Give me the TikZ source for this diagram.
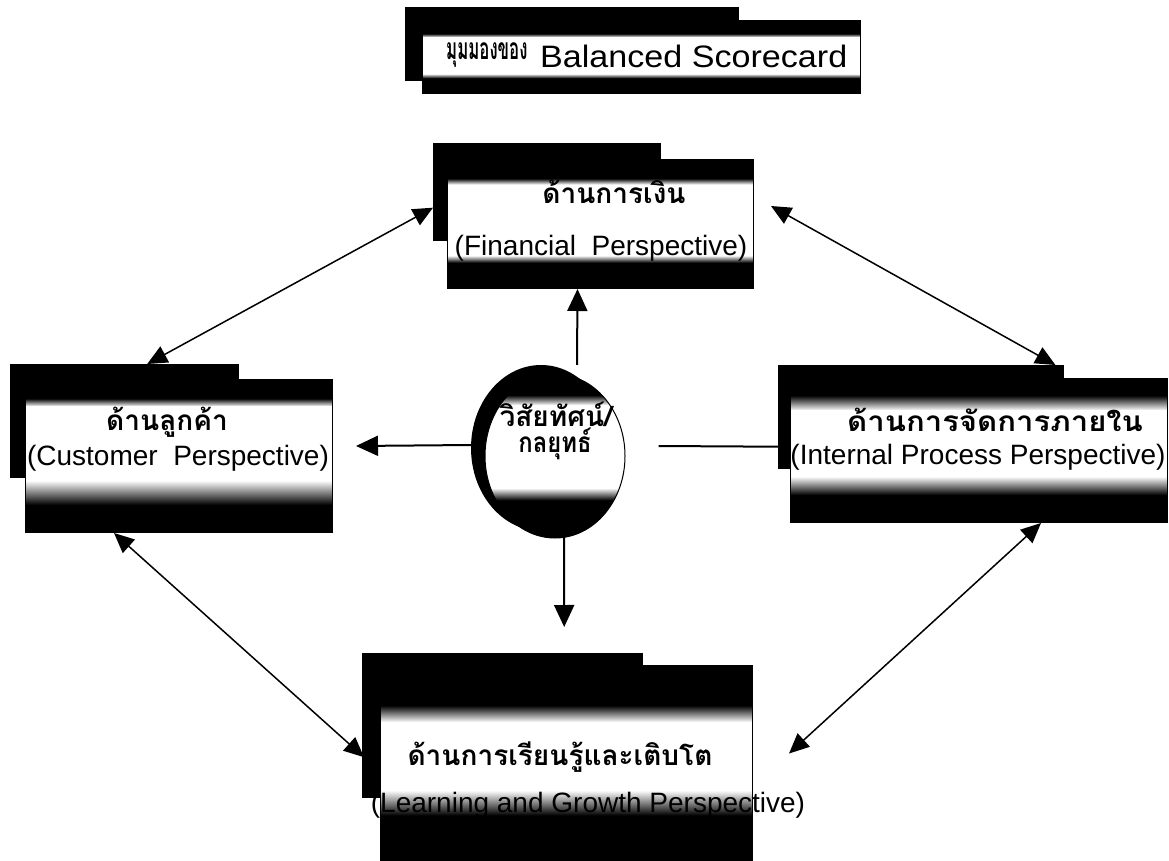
\documentclass[tikz,border=0pt]{standalone}
\usepackage{fontspec}
\setmainfont{Liberation Sans}
\newfontfamily\thaifont[Script=Thai]{Loma}
\usetikzlibrary{calc,arrows.meta,shapes.geometric}

\begin{document}
\begin{tikzpicture}[x=1pt,y=-1pt,
  backbox/.style={rectangle,fill=black,draw=black,inner sep=0pt,anchor=north west},
  % front panel: black top and bottom, white band in between;
  % #1..#4 are fractions of the height, measured from the top
  panel/.style n args={4}{draw=black,line width=1pt,inner sep=0pt,
    path picture={
      \fill[black] (path picture bounding box.north west) rectangle (path picture bounding box.south east);
      \shade[top color=black,bottom color=white]
        ($(path picture bounding box.north west)!#1!(path picture bounding box.south west)$) rectangle
        ($(path picture bounding box.north east)!#2!(path picture bounding box.south east)$);
      \fill[white]
        ($(path picture bounding box.north west)!#2!(path picture bounding box.south west)$) rectangle
        ($(path picture bounding box.north east)!#3!(path picture bounding box.south east)$);
      \shade[top color=white,bottom color=black]
        ($(path picture bounding box.north west)!#3!(path picture bounding box.south west)$) rectangle
        ($(path picture bounding box.north east)!#4!(path picture bounding box.south east)$);
    }},
  boxpanel/.style n args={4}{rectangle,anchor=north west,panel={#1}{#2}{#3}{#4}},
  thtext/.style={font=\thaifont\bfseries\fontsize{28}{30}\selectfont,inner sep=0pt},
  entext/.style={font=\fontsize{28}{30}\selectfont,inner sep=0pt},
  link/.style={line width=1.5pt,{Triangle[length=20pt,width=18pt]}-{Triangle[length=20pt,width=18pt]}},
  ray/.style={line width=2pt,-{Triangle[length=22pt,width=20pt]}},
  plainray/.style={line width=2pt}
]
\useasboundingbox[fill=white] (0,0) rectangle (1169,861);

% title
\node[backbox,minimum width=333,minimum height=73] (titleB) at (405,7) {};
\node[boxpanel={0.18}{0.23}{0.73}{0.79},minimum width=438,minimum height=73] (titleF) at (422,20) {};
\node[anchor=west,inner sep=0pt] (titleTh) at (446,55)
  {\scalebox{0.56}[1]{\thaifont\bfseries\fontsize{30}{32}\selectfont มุมมองของ}};
\node[anchor=west,inner sep=0pt] (titleEn) at (540,56)
  {\scalebox{1.1}[1]{\fontsize{31}{33}\selectfont Balanced Scorecard}};

% financial
\node[backbox,minimum width=227,minimum height=97] (finB) at (433,143) {};
\node[boxpanel={0.147}{0.194}{0.744}{0.80},minimum width=306,minimum height=129] (finF) at (447,159) {};
\node[thtext] (finTh) at (614,192) {ด้านการเงิน};
\node[entext] (finEn) at (601,248) {(Financial~ Perspective)};

% customer
\node[backbox,minimum width=228,minimum height=113] (custB) at (10,364) {};
\node[boxpanel={0.124}{0.176}{0.66}{0.82},minimum width=307,minimum height=153] (custF) at (25,379) {};
\node[thtext] (custTh) at (167,422) {ด้านลูกค้า};
\node[entext] (custEn) at (178,458) {(Customer~ Perspective)};

% internal process
\node[backbox,minimum width=285,minimum height=103] (intB) at (778,365) {};
\node[boxpanel={0.118}{0.222}{0.68}{0.81},minimum width=377,minimum height=144] (intF) at (790,378) {};
\node[thtext] (intTh) at (995,420) {\scalebox{1.11}[1]{ด้านการจัดการภายใน}};
\node[entext] (intEn) at (978,457) {(Internal Process Perspective)};

% learning and growth
\node[backbox,minimum width=280,minimum height=144] (learnB) at (362,653) {};
\node[boxpanel={0.19}{0.27}{0.595}{0.714},minimum width=372,minimum height=210] (learnF) at (380,665) {};
\node[thtext] (learnTh) at (560,757) {ด้านการเรียนรู้และเติบโต};
\node[entext] (learnEn) at (588,805) {(Learning and Growth Perspective)};

% vision / strategy
\node[ellipse,fill=black,minimum width=140,minimum height=166,inner sep=0pt] (circB) at (541,448) {};
\node[ellipse,panel={0.128}{0.19}{0.695}{0.77},minimum width=140,minimum height=164] (circF) at (555,456) {};
\node[thtext] (circTh1) at (556,414) {วิสัยทัศน์/};
\node[thtext] (circTh2) at (555,444) {\scalebox{0.85}[1]{กลยุทธ์}};

% links between perspectives
\draw[link] ($(finB.west)+(0,16)$) -- ($(custB.north)+(23,0)$);
\draw[link] ($(finF.east)+(17,-18)$) -- ($(intB.north east)+(-8,0)$);
\draw[link] ($(custF.south)+(-65,0)$) -- ($(learnB.west)+(2,32)$);
\draw[link] ($(intF.south)+(62,0)$) -- ($(learnF.east)+(36,-17)$);

% rays from the centre
\draw[ray] ($(circB.north)+(36,0)$) -- ($(finF.south)+(-23,0)$);
\draw[ray] ($(circF.south)+(9,-4)$) -- ($(learnB.north)+(62,-26)$);
\draw[ray] ($(circB.west)+(0,-3)$) -- ($(custF.east)+(23,-10)$);
\draw[plainray] ($(circF.east)+(33,-10)$) -- ($(intB.west)+(0,30)$);
\end{tikzpicture}
\end{document}
